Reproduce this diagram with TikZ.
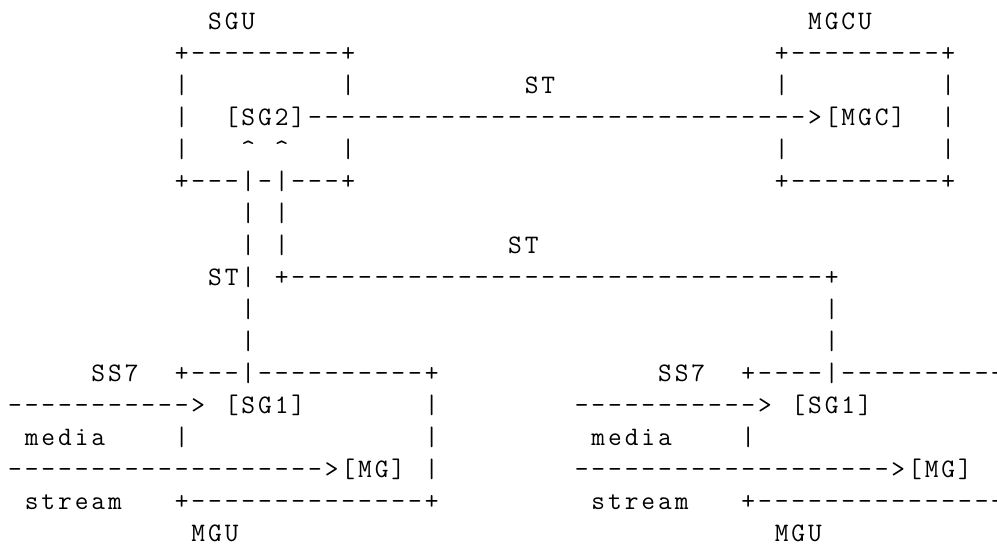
\documentclass[tikz,border=0pt]{standalone}
\newlength{\cellw}\setlength{\cellw}{12.5pt}
\makeatletter
\def\asc#1{\ascloop#1\@nil}
\def\ascloop#1{\ifx#1\@nil\else\makebox[\cellw][c]{#1}\expandafter\ascloop\fi}
\makeatother
\tikzset{ascii/.style={anchor=base west, inner sep=0pt, outer sep=0pt, font=\fontsize{20}{24}\selectfont\ttfamily}}
\begin{document}
\begin{tikzpicture}[x=12.5pt,y=-24pt]
\useasboundingbox[fill=white] (-0.4,-0.90625) rectangle (59.42,16.09375);
% row 0
\node[ascii] (sgu) at (12,0) {\asc{SGU}};
\node[ascii] (mgcu) at (48,0) {\asc{MGCU}};
% row 1
\node[ascii] (sgutop) at (10,1) {\asc{+---------+}};
\node[ascii] (mgcutop) at (46,1) {\asc{+---------+}};
% row 2
\node[ascii] (r2a) at (10,2) {\asc{|}};
\node[ascii] (r2b) at (20,2) {\asc{|}};
\node[ascii] (st1) at (31,2) {\asc{ST}};
\node[ascii] (r2c) at (46,2) {\asc{|}};
\node[ascii] (r2d) at (56,2) {\asc{|}};
% row 3
\node[ascii] (r3a) at (10,3) {\asc{|}};
\node[ascii] (sg2mgc) at (13,3) {\asc{[SG2]------------------------------>[MGC]}};
\node[ascii] (r3d) at (56,3) {\asc{|}};
% row 4
\node[ascii] (r4a) at (10,4) {\asc{|}};
\node[ascii] (car1) at (14,4) {\asc{\textasciicircum}};
\node[ascii] (car2) at (16,4) {\asc{\textasciicircum}};
\node[ascii] (r4b) at (20,4) {\asc{|}};
\node[ascii] (r4c) at (46,4) {\asc{|}};
\node[ascii] (r4d) at (56,4) {\asc{|}};
% row 5
\node[ascii] (sgubot) at (10,5) {\asc{+---|-|---+}};
\node[ascii] (mgcubot) at (46,5) {\asc{+---------+}};
% row 6
\node[ascii] (r6a) at (14,6) {\asc{|}};
\node[ascii] (r6b) at (16,6) {\asc{|}};
% row 7
\node[ascii] (r7a) at (14,7) {\asc{|}};
\node[ascii] (r7b) at (16,7) {\asc{|}};
\node[ascii] (st2) at (30,7) {\asc{ST}};
% row 8
\node[ascii] (st3) at (12,8) {\asc{ST|}};
\node[ascii] (r8b) at (16,8) {\asc{+--------------------------------+}};
% row 9, 10
\node[ascii] (r9a) at (14,9) {\asc{|}};
\node[ascii] (r9b) at (49,9) {\asc{|}};
\node[ascii] (r10a) at (14,10) {\asc{|}};
\node[ascii] (r10b) at (49,10) {\asc{|}};
% row 11
\node[ascii] (ss7a) at (5,11) {\asc{SS7}};
\node[ascii] (mgutopa) at (10,11) {\asc{+---|----------+}};
\node[ascii] (ss7b) at (39,11) {\asc{SS7}};
\node[ascii] (mgutopb) at (44,11) {\asc{+----|---------+}};
% row 12
\node[ascii] (arra) at (0,12) {\asc{----------->}};
\node[ascii] (sg1a) at (13,12) {\asc{[SG1]}};
\node[ascii] (r12a) at (25,12) {\asc{|}};
\node[ascii] (arrb) at (34,12) {\asc{----------->}};
\node[ascii] (sg1b) at (47,12) {\asc{[SG1]}};
\node[ascii] (r12b) at (59,12) {\asc{|}};
% row 13
\node[ascii] (mediaa) at (1,13) {\asc{media}};
\node[ascii] (r13a) at (10,13) {\asc{|}};
\node[ascii] (r13b) at (25,13) {\asc{|}};
\node[ascii] (mediab) at (35,13) {\asc{media}};
\node[ascii] (r13c) at (44,13) {\asc{|}};
\node[ascii] (r13d) at (59,13) {\asc{|}};
% row 14
\node[ascii] (mga) at (0,14) {\asc{------------------->[MG]}};
\node[ascii] (r14a) at (25,14) {\asc{|}};
\node[ascii] (mgb) at (34,14) {\asc{------------------->[MG]}};
\node[ascii] (r14b) at (59,14) {\asc{|}};
% row 15
\node[ascii] (streama) at (1,15) {\asc{stream}};
\node[ascii] (mgubota) at (10,15) {\asc{+--------------+}};
\node[ascii] (streamb) at (35,15) {\asc{stream}};
\node[ascii] (mguboth) at (44,15) {\asc{+--------------+}};
% row 16
\node[ascii] (mgua) at (11,16) {\asc{MGU}};
\node[ascii] (mgub) at (46,16) {\asc{MGU}};
\end{tikzpicture}
\end{document}
